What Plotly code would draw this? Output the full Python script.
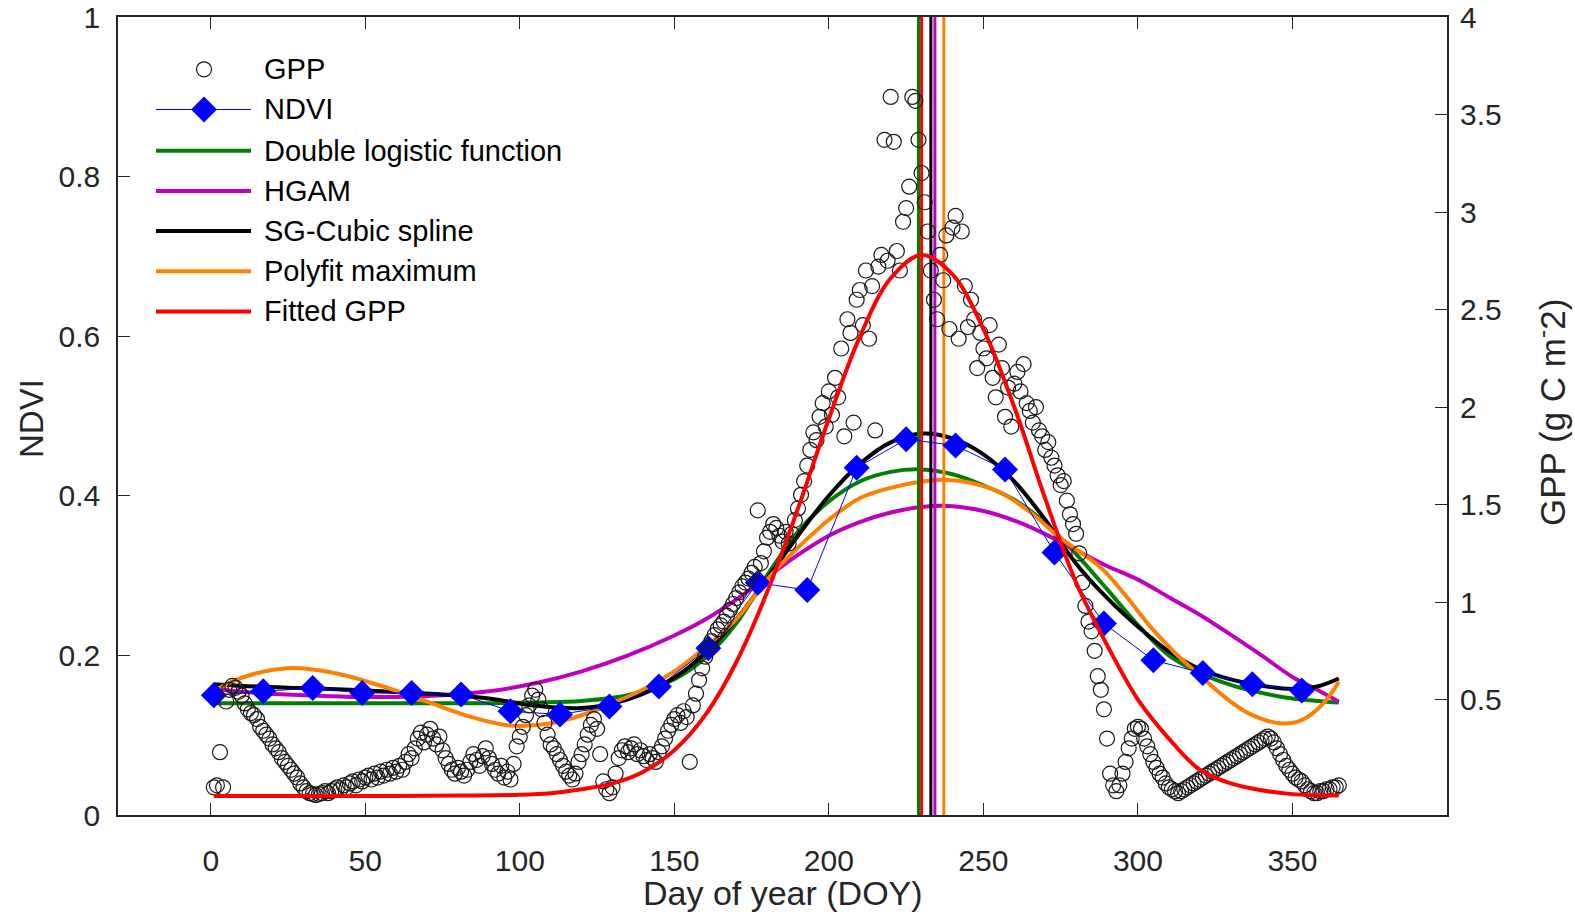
import plotly.graph_objects as go

# ---------------- data ----------------
gpp_doy = list(range(1, 366))
gpp_obs = [
    0.05, 0.06, 0.23, 0.05, 0.49, 0.55, 0.57, 0.56, 0.54, 0.52,
    0.48, 0.45, 0.43, 0.42, 0.40, 0.36, 0.34, 0.32, 0.30, 0.27,
    0.25, 0.23, 0.20, 0.18, 0.16, 0.14, 0.12, 0.10, 0.07, 0.05,
    0.03, 0.02, 0.015, 0.01, 0.015, 0.02, 0.03, 0.02, 0.03, 0.04,
    0.05, 0.04, 0.06, 0.05, 0.07, 0.08, 0.06, 0.09, 0.08, 0.10,
    0.11, 0.09, 0.12, 0.10, 0.13, 0.11, 0.14, 0.12, 0.15, 0.13,
    0.16, 0.14, 0.18, 0.22, 0.20, 0.25, 0.30, 0.33, 0.28, 0.32,
    0.35, 0.30, 0.27, 0.31, 0.24, 0.20, 0.17, 0.14, 0.12, 0.15,
    0.13, 0.11, 0.14, 0.18, 0.22, 0.19, 0.16, 0.21, 0.25, 0.20,
    0.17, 0.14, 0.12, 0.16, 0.10, 0.13, 0.09, 0.17, 0.26, 0.31,
    0.36, 0.42, 0.47, 0.52, 0.55, 0.50, 0.45, 0.38, 0.32, 0.27,
    0.25, 0.22, 0.19, 0.16, 0.13, 0.11, 0.09, 0.12, 0.18, 0.22,
    0.27, 0.32, 0.37, 0.40, 0.35, 0.22, 0.08, 0.04, 0.02, 0.05,
    0.12, 0.20, 0.24, 0.26, 0.23, 0.25, 0.27, 0.22, 0.24, 0.21,
    0.19, 0.22, 0.20, 0.18, 0.23, 0.26, 0.30, 0.34, 0.37, 0.40,
    0.42, 0.38, 0.44, 0.41, 0.18, 0.47, 0.53, 0.60, 0.66, 0.72,
    0.76, 0.80, 0.83, 0.86, 0.88, 0.90, 0.93, 0.96, 0.99, 1.02,
    1.05, 1.08, 1.10, 1.12, 1.15, 1.18, 1.47, 1.20, 1.26, 1.33,
    1.36, 1.40, 1.38, 1.34, 1.31, 1.36, 1.30, 1.35, 1.42, 1.48,
    1.55, 1.62, 1.70, 1.78, 1.87, 1.83, 1.95, 2.02, 1.90, 2.08,
    1.96, 2.15, 2.05, 2.30, 1.85, 2.45, 2.38, 1.92, 2.55, 2.60,
    2.42, 2.70, 2.35, 2.62, 1.88, 2.72, 2.78, 3.37, 2.75, 3.59,
    3.36, 2.80, 2.70, 2.95, 3.02, 3.13, 3.59, 3.57, 3.37, 3.20,
    3.05, 2.90, 2.70, 2.55, 2.45, 2.78, 2.65, 2.88, 2.40, 2.92,
    2.98, 2.35, 2.90, 2.62, 2.41, 2.55, 2.45, 2.20, 2.38, 2.30,
    2.25, 2.42, 2.15, 2.05, 2.32, 2.20, 1.95, 2.10, 1.90, 2.12,
    2.18, 2.08, 2.22, 2.02, 1.98, 1.92, 2.00, 1.88, 1.85, 1.78,
    1.82, 1.74, 1.70, 1.65, 1.60, 1.62, 1.52, 1.45, 1.40, 1.35,
    1.25, 1.10, 0.98, 0.90, 0.85, 0.75, 0.62, 0.55, 0.45, 0.30,
    0.12, 0.06, 0.03, 0.06, 0.12, 0.18, 0.25, 0.30, 0.35, 0.36,
    0.35, 0.30, 0.26, 0.22, 0.18, 0.15, 0.12, 0.10, 0.07, 0.05,
    0.04, 0.03, 0.02, 0.03, 0.04, 0.05, 0.06, 0.07, 0.08, 0.09,
    0.10, 0.11, 0.12, 0.13, 0.14, 0.15, 0.16, 0.17, 0.18, 0.19,
    0.20, 0.21, 0.22, 0.23, 0.24, 0.25, 0.26, 0.27, 0.28, 0.29,
    0.30, 0.31, 0.30, 0.28, 0.25, 0.22, 0.19, 0.16, 0.14, 0.12,
    0.10, 0.09, 0.08, 0.06, 0.04, 0.03, 0.02, 0.02, 0.03, 0.03,
    0.04, 0.04, 0.05, 0.05, 0.06,
]

ndvi_doy = [1, 17, 33, 49, 65, 81, 97, 113, 129, 145, 161, 177, 193, 209, 225,
            241, 257, 273, 289, 305, 321, 337, 353]
ndvi_obs = [0.150, 0.155, 0.159, 0.153, 0.153, 0.151, 0.130, 0.126, 0.136, 0.161,
            0.209, 0.291, 0.282, 0.435, 0.471, 0.463, 0.433, 0.329, 0.240, 0.194,
            0.178, 0.164, 0.156]

curve_doy = [1, 15, 30, 45, 60, 75, 90, 105, 120, 135, 150, 160, 170, 180, 190,
             200, 210, 220, 230, 240, 250, 260, 270, 280, 290, 300, 310, 320, 330,
             340, 350, 358, 365]
sg_cubic = [0.164, 0.161, 0.159, 0.157, 0.154, 0.151, 0.146, 0.137, 0.134, 0.145,
            0.172, 0.203, 0.245, 0.296, 0.350, 0.400, 0.440, 0.467, 0.478, 0.472,
            0.452, 0.418, 0.370, 0.315, 0.272, 0.236, 0.205, 0.183, 0.170, 0.162,
            0.158, 0.161, 0.171]
double_logistic = [0.140, 0.140, 0.140, 0.140, 0.140, 0.140, 0.140, 0.141, 0.143, 0.150,
                   0.170, 0.197, 0.240, 0.300, 0.355, 0.393, 0.418, 0.430, 0.433, 0.427,
                   0.413, 0.395, 0.366, 0.327, 0.283, 0.238, 0.200, 0.178, 0.163, 0.153,
                   0.146, 0.143, 0.141]
hgam = [0.158, 0.153, 0.150, 0.148, 0.148, 0.150, 0.155, 0.165, 0.180, 0.200,
        0.225, 0.245, 0.270, 0.298, 0.326, 0.350, 0.367, 0.379, 0.386, 0.387,
        0.381, 0.369, 0.352, 0.332, 0.312, 0.295, 0.273, 0.251, 0.226, 0.200,
        0.173, 0.157, 0.142]

poly_doy = [1, 10, 25, 40, 55, 70, 85, 97, 110, 120, 135, 150, 160, 170, 180, 190,
            200, 210, 220, 230, 237, 245, 255, 265, 275, 288, 296, 304, 312, 320,
            328, 336, 346, 353, 360, 365]
polyfit_max = [0.155, 0.172, 0.184, 0.178, 0.162, 0.142, 0.122, 0.112, 0.115, 0.125,
               0.148, 0.180, 0.210, 0.245, 0.295, 0.335, 0.370, 0.397, 0.410, 0.418,
               0.420, 0.417, 0.405, 0.380, 0.347, 0.310, 0.275, 0.236, 0.203, 0.175,
               0.148, 0.127, 0.115, 0.119, 0.140, 0.167]

fit_doy = [1, 20, 40, 60, 80, 100, 110, 120, 130, 140, 150, 160, 170, 180, 190, 200,
           210, 220, 230, 240, 250, 260, 270, 280, 290, 300, 310, 320, 330, 340, 350, 365]
fitted_gpp = [0.005, 0.005, 0.005, 0.006, 0.008, 0.012, 0.020, 0.040, 0.070, 0.130,
              0.240, 0.420, 0.690, 1.050, 1.480, 1.940, 2.360, 2.660, 2.780, 2.680,
              2.400, 2.000, 1.530, 1.100, 0.780, 0.500, 0.300, 0.140, 0.070, 0.035,
              0.015, 0.008]

peak_names = ["Double logistic function", "Fitted GPP", "SG-Cubic spline", "HGAM", "Polyfit maximum"]
peak_doy = [229, 230, 233, 234.3, 237.2]

x_ticks = [0, 50, 100, 150, 200, 250, 300, 350]
ndvi_ticks = [0, 0.2, 0.4, 0.6, 0.8, 1]
gpp_ticks = [0.5, 1, 1.5, 2, 2.5, 3, 3.5, 4]

# ---------------- style ----------------
FONT = "Liberation Sans, Arial, sans-serif"
AX = "#262626"
C_GREEN = "#008000"
C_MAG = "#BF00BF"
C_BLACK = "#000000"
C_ORANGE = "#FF8000"
C_RED = "#FF0000"
C_BLUE = "#0000FF"
colors = {"Double logistic function": C_GREEN, "HGAM": C_MAG, "SG-Cubic spline": C_BLACK,
          "Polyfit maximum": C_ORANGE, "Fitted GPP": C_RED}

W, H = 1575, 916
L, R, T, B = 118, 1447, 17, 815


def px(xp):
    return (xp - L) / (R - L)


def py(yp):
    return (B - yp) / (B - T)


fig = go.Figure()

curves = [("Double logistic function", curve_doy, double_logistic),
          ("HGAM", curve_doy, hgam),
          ("SG-Cubic spline", curve_doy, sg_cubic),
          ("Polyfit maximum", poly_doy, polyfit_max)]
for name, xs, ys in curves:
    fig.add_trace(go.Scatter(x=xs, y=ys, mode="lines", name=name,
                             line=dict(color=colors[name], width=4, shape="spline", smoothing=1.0),
                             showlegend=False))

for name, d in zip(peak_names, peak_doy):
    fig.add_trace(go.Scatter(x=[d, d], y=[0, 1], mode="lines",
                             line=dict(color=colors[name], width=3), showlegend=False))

fig.add_trace(go.Scatter(x=ndvi_doy, y=ndvi_obs, mode="lines+markers", name="NDVI",
                         line=dict(color=C_BLUE, width=1),
                         marker=dict(symbol="diamond", size=20, color=C_BLUE, line=dict(width=0)),
                         showlegend=False))

fig.add_trace(go.Scatter(x=gpp_doy, y=gpp_obs, mode="markers", name="GPP", yaxis="y2",
                         marker=dict(symbol="circle-open", size=15, color="#1a1a1a",
                                     line=dict(width=1.2, color="#1a1a1a")),
                         showlegend=False))
fig.add_trace(go.Scatter(x=fit_doy, y=fitted_gpp, mode="lines", name="Fitted GPP", yaxis="y2",
                         line=dict(color=C_RED, width=4, shape="spline", smoothing=1.0),
                         showlegend=False))

# ---------------- manual legend (pixel overlay axes) ----------------
leg_names = ["GPP", "NDVI", "Double logistic function", "HGAM", "SG-Cubic spline",
             "Polyfit maximum", "Fitted GPP"]
leg_y = [69.3, 109.5, 150.7, 190.9, 231.0, 271.2, 311.4]
lx0, lx1, lxm, ltx = 156, 251, 204, 262
for name, yy in zip(leg_names, leg_y):
    if name == "GPP":
        fig.add_trace(go.Scatter(x=[lxm], y=[yy], mode="markers", xaxis="x3", yaxis="y3",
                                 marker=dict(symbol="circle-open", size=15, color="#1a1a1a",
                                             line=dict(width=1.2)), showlegend=False,
                                 hoverinfo="skip"))
    elif name == "NDVI":
        fig.add_trace(go.Scatter(x=[lx0, lxm, lx1], y=[yy, yy, yy], mode="lines", xaxis="x3",
                                 yaxis="y3", line=dict(color=C_BLUE, width=1), showlegend=False,
                                 hoverinfo="skip"))
        fig.add_trace(go.Scatter(x=[lxm], y=[yy], mode="markers", xaxis="x3", yaxis="y3",
                                 marker=dict(symbol="diamond", size=20, color=C_BLUE),
                                 showlegend=False, hoverinfo="skip"))
    else:
        fig.add_trace(go.Scatter(x=[lx0, lx1], y=[yy, yy], mode="lines", xaxis="x3", yaxis="y3",
                                 line=dict(color=colors[name], width=4), showlegend=False,
                                 hoverinfo="skip"))
    fig.add_annotation(x=px(ltx), y=py(yy), xref="paper", yref="paper", text=name,
                       showarrow=False, xanchor="left", yanchor="middle",
                       font=dict(family=FONT, size=29, color="#000000"))

# axis titles (paper coordinates)
fig.add_annotation(x=px((L + R) / 2), y=py(893), xref="paper", yref="paper",
                   text="Day of year (DOY)", showarrow=False, xanchor="center",
                   yanchor="middle", font=dict(family=FONT, size=34, color=AX))
fig.add_annotation(x=px(31), y=py((T + B) / 2 + 3), xref="paper", yref="paper", text="NDVI",
                   textangle=-90, showarrow=False, xanchor="center", yanchor="middle",
                   font=dict(family=FONT, size=33, color=AX))
fig.add_annotation(x=px(1550), y=py(413), xref="paper", yref="paper",
                   text="GPP (g C m<sup>-</sup>2)", textangle=-90, showarrow=False,
                   xanchor="center", yanchor="middle",
                   font=dict(family=FONT, size=35, color=AX))

fig.update_layout(
    width=W, height=H,
    margin=dict(l=L, r=W - R, t=T, b=H - B, pad=0, autoexpand=False),
    paper_bgcolor="white", plot_bgcolor="white",
    font=dict(family=FONT, color=AX),
    xaxis=dict(range=[-30, 400], tickvals=x_ticks, ticks="inside", ticklen=12, tickwidth=1.3,
               tickcolor=AX, showline=True, linecolor=AX, linewidth=1.5, mirror="ticks",
               showgrid=False, zeroline=False, tickfont=dict(size=30, color=AX),
               ticklabelstandoff=18, automargin=False),
    yaxis=dict(range=[0, 1], tickvals=ndvi_ticks, ticktext=["0", "0.2", "0.4", "0.6", "0.8", "1"],
               ticks="inside", ticklen=12, tickwidth=1.3, tickcolor=AX, showline=True,
               linecolor=AX, linewidth=1.5, mirror=True, showgrid=False, zeroline=False,
               tickfont=dict(size=30, color=AX), ticklabelstandoff=10, automargin=False),
    yaxis2=dict(range=[-0.092, 4], overlaying="y", side="right", tickvals=gpp_ticks,
                ticktext=["0.5", "1", "1.5", "2", "2.5", "3", "3.5", "4"],
                ticks="inside", ticklen=12, tickwidth=1.3, tickcolor=AX, showline=False,
                showgrid=False, zeroline=False, tickfont=dict(size=30, color=AX),
                ticklabelstandoff=12, automargin=False),
    xaxis3=dict(overlaying="x", range=[L, R], visible=False, anchor="y3", fixedrange=True),
    yaxis3=dict(overlaying="y", range=[B, T], visible=False, anchor="x3", fixedrange=True),
    showlegend=False,
)

fig.write_html("out.html")
